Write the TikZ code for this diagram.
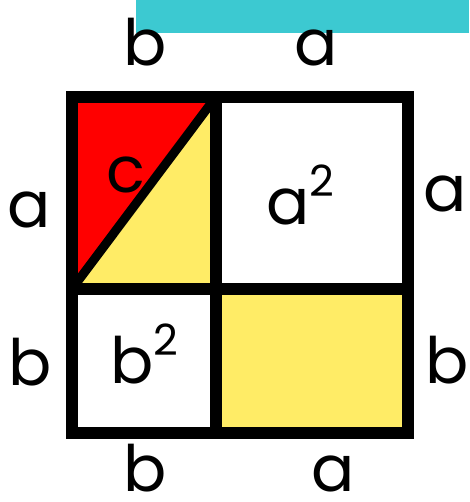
\documentclass[tikz,border=0pt]{standalone}
\usepackage{fontspec}
\setmainfont{Poppins}
\usepackage{xcolor}
\usepackage{tikz}
\usetikzlibrary{calc}
\definecolor{sqyellow}{HTML}{FFEC66}
\definecolor{sqred}{HTML}{FF0000}
\definecolor{barteal}{HTML}{3CC9D1}
\newcommand{\sqtwo}{\raisebox{28pt}{\fontsize{43}{43}\selectfont 2}}

\begin{document}
\begin{tikzpicture}
    [%%%%%%%%%%%%%%%%%%%%%%%%%%%%%%
        x=1pt,y=-1pt,
        edge/.style={line width=12pt},
        diag/.style={line width=9pt},
        lab/.style={inner sep=0pt,anchor=base,font=\fontsize{64}{64}\selectfont},
    ]%%%%%%%%%%%%%%%%%%%%%%%%%%%%%%

\useasboundingbox (0,0) rectangle (469,502);

\fill[barteal] (136,0) rectangle (469,32.7);

\coordinate (tl) at (72,96.7);
\coordinate (br) at (408,432.7);
\coordinate (mt) at (216,96.7);
\coordinate (mb) at (216,432.7);
\coordinate (ml) at (72,289);
\coordinate (mr) at (408,289);
\coordinate (mid) at (216,289);

\fill[sqyellow] (tl) rectangle (mid);
\fill[sqred] (tl) -- (mt) -- (ml) -- cycle;
\fill[sqyellow] (mid) rectangle (br);

\draw[diag] (mt) -- (ml);
\draw[edge] (tl) rectangle (br);
\draw[edge] (mt) -- (mb);
\draw[edge] (ml) -- (mr);

%\node[lab] at (216,289){ };
\node[lab] (topb) at (145.5,66) {b};
\node[lab] (topa) at (316,66) {a};
\node[lab] (botb) at (145,491) {b};
\node[lab] (bota) at (333,491) {a};
\node[lab] (lefta) at (29,227) {a};
\node[lab] (leftb) at (30,385) {b};
\node[lab] (righta) at (445,212) {a};
\node[lab] (rightb) at (447,383) {b};
\node[lab] (hyp) at (126,193) {c};
\node[lab,anchor=base west] (asq) at (266,225) {a\sqtwo};
\node[lab,anchor=base west] (bsq) at (110,383) {b\sqtwo};

\end{tikzpicture}
\end{document}
